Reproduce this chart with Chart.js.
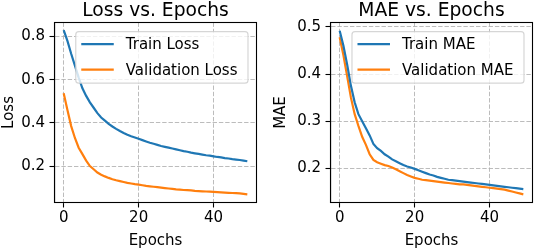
<!DOCTYPE html>
<html><head><meta charset="utf-8">
<script src="https://cdn.jsdelivr.net/npm/chart.js@4/dist/chart.umd.min.js"></script>
<style>
html,body{margin:0;padding:0;background:#fff;}
#wrap{position:relative;width:534px;height:250px;overflow:hidden;}
canvas{position:absolute;top:0;}
</style></head><body>
<div id="wrap">
<canvas id="c1" width="267" height="250" style="left:0"></canvas>
<canvas id="c2" width="267" height="250" style="left:267px"></canvas>
</div>
<script>
const epochs = [0,1,2,3,4,5,6,7,8,9,10,11,12,13,14,15,16,17,18,19,20,21,22,23,24,25,26,27,28,29,30,31,32,33,34,35,36,37,38,39,40,41,42,43,44,45,46,47,48,49];
const trainLoss = [0.83,0.78,0.72,0.665,0.61,0.56,0.525,0.495,0.47,0.445,0.425,0.41,0.395,0.383,0.372,0.362,0.353,0.345,0.338,0.332,0.326,0.32,0.314,0.308,0.303,0.298,0.293,0.289,0.285,0.281,0.277,0.273,0.269,0.266,0.262,0.259,0.256,0.253,0.25,0.248,0.245,0.242,0.24,0.237,0.235,0.232,0.23,0.228,0.225,0.222];
const valLoss = [0.537,0.46,0.385,0.33,0.285,0.255,0.225,0.2,0.185,0.17,0.16,0.152,0.145,0.139,0.134,0.13,0.126,0.122,0.119,0.116,0.114,0.111,0.108,0.106,0.104,0.102,0.1,0.098,0.096,0.094,0.092,0.091,0.089,0.088,0.087,0.085,0.084,0.083,0.082,0.081,0.08,0.079,0.078,0.077,0.076,0.075,0.074,0.073,0.071,0.069];
const trainMAE = [0.492,0.46,0.42,0.375,0.34,0.315,0.3,0.285,0.27,0.252,0.243,0.237,0.23,0.225,0.219,0.215,0.211,0.207,0.204,0.202,0.199,0.196,0.193,0.19,0.187,0.185,0.182,0.18,0.178,0.176,0.175,0.174,0.173,0.172,0.171,0.17,0.169,0.168,0.167,0.166,0.165,0.164,0.163,0.162,0.161,0.16,0.159,0.158,0.157,0.156];
const valMAE = [0.478,0.44,0.395,0.35,0.315,0.29,0.267,0.25,0.23,0.218,0.213,0.21,0.207,0.205,0.202,0.198,0.194,0.19,0.186,0.183,0.18,0.178,0.176,0.175,0.174,0.173,0.172,0.171,0.17,0.169,0.168,0.167,0.166,0.166,0.165,0.164,0.163,0.162,0.161,0.16,0.159,0.158,0.157,0.156,0.155,0.153,0.151,0.149,0.147,0.145];
const xTicks = [0,20,40];
const lossTicks = [0.2,0.4,0.6,0.8];
const maeTicks = [0.2,0.3,0.4,0.5];
const lossLabels = ['Train Loss','Validation Loss'];
const maeLabels = ['Train MAE','Validation MAE'];

const FONT = '"DejaVu Sans", sans-serif';
const BLUE = '#1f77b4', ORANGE = '#ff7f0e';

const deco = {
  id: 'deco',
  afterDatasetsDraw(chart, args, o) {
    const ctx = chart.ctx, a = chart.chartArea;
    ctx.save();
    // frame
    ctx.strokeStyle = '#000'; ctx.lineWidth = 1.1; ctx.setLineDash([]);
    ctx.strokeRect(a.left, a.top, a.right - a.left, a.bottom - a.top);
    // legend
    ctx.font = '15px ' + FONT;
    const ds = chart.data.datasets;
    let tw = 0;
    ds.forEach(d => { tw = Math.max(tw, ctx.measureText(d.label).width); });
    const w = 5.5 + 32.5 + 12 + tw + 10.5, h = 51.5;
    const x0 = a.right - 8.5 - w, y0 = a.top + 9.2;
    ctx.beginPath();
    if (ctx.roundRect) ctx.roundRect(x0, y0, w, h, 3); else ctx.rect(x0, y0, w, h);
    ctx.fillStyle = 'rgba(255,255,255,0.8)'; ctx.fill();
    ctx.strokeStyle = 'rgba(204,204,204,0.8)'; ctx.lineWidth = 1.2; ctx.stroke();
    ds.forEach((d, i) => {
      const yy = y0 + 12.5 + i * 25.5;
      ctx.strokeStyle = d.borderColor; ctx.lineWidth = 2.2;
      ctx.beginPath(); ctx.moveTo(x0 + 5.5, yy); ctx.lineTo(x0 + 38, yy); ctx.stroke();
      ctx.fillStyle = '#000'; ctx.textAlign = 'left'; ctx.textBaseline = 'middle';
      ctx.fillText(d.label, x0 + 50, yy + 1);
    });
    // title
    ctx.font = '18.7px ' + FONT; ctx.fillStyle = '#000';
    ctx.textAlign = 'center'; ctx.textBaseline = 'alphabetic';
    ctx.fillText(o.title, (a.left + a.right) / 2, 15.5);
    ctx.restore();
  }
};

function makeChart(id, cfg) {
  const pts = arr => epochs.map((e, i) => ({x: e, y: arr[i]}));
  return new Chart(document.getElementById(id), {
    type: 'line',
    data: {
      datasets: [
        {label: cfg.labels[0], data: pts(cfg.a), borderColor: BLUE, backgroundColor: BLUE, borderWidth: 2.2, pointRadius: 0, tension: 0, fill: false},
        {label: cfg.labels[1], data: pts(cfg.b), borderColor: ORANGE, backgroundColor: ORANGE, borderWidth: 2.2, pointRadius: 0, tension: 0, fill: false}
      ]
    },
    plugins: [deco],
    options: {
      responsive: false, animation: false, devicePixelRatio: 1,
      layout: {padding: {top: 22.5, right: cfg.padRight, bottom: 0, left: 0}},
      plugins: {legend: {display: false}, title: {display: false}, tooltip: {enabled: false}, deco: {title: cfg.title}},
      scales: {
        x: {
          type: 'linear', min: -2.45, max: 51.45,
          afterBuildTicks: s => { s.ticks = xTicks.map(v => ({value: v})); },
          afterFit: s => { s.height = 47.5; },
          ticks: {color: '#000', font: {family: FONT, size: 15}, padding: 2, maxRotation: 0, autoSkip: false, callback: v => String(v)},
          grid: {color: 'rgba(176,176,176,0.85)', lineWidth: 1, tickLength: 5, tickColor: '#000', tickWidth: 1.1, tickBorderDash: []},
          border: {display: true, color: '#000', width: 1.1, dash: [4.4, 1.9]},
          title: {display: true, text: 'Epochs', color: '#000', font: {family: FONT, size: 15}, padding: {top: 0, bottom: 0}}
        },
        y: {
          type: 'linear', min: cfg.yMin, max: cfg.yMax,
          afterBuildTicks: s => { s.ticks = cfg.yTicks.map(v => ({value: v})); },
          afterFit: s => { s.width = cfg.yWidth; },
          ticks: {color: '#000', font: {family: FONT, size: 15}, padding: 4.5, autoSkip: false, callback: v => v.toFixed(1)},
          grid: {color: 'rgba(176,176,176,0.85)', lineWidth: 1, tickLength: 5, tickColor: '#000', tickWidth: 1.1, tickBorderDash: []},
          border: {display: true, color: '#000', width: 1.1, dash: [4.4, 1.9]},
          title: {display: true, text: cfg.yTitle, color: '#000', font: {family: FONT, size: 15}, padding: {top: cfg.yTitlePad, bottom: 0}}
        }
      }
    }
  });
}

makeChart('c1', {a: trainLoss, b: valLoss, labels: lossLabels, title: 'Loss vs. Epochs', yTitle: 'Loss',
  yMin: 0.031, yMax: 0.865, yTicks: lossTicks, yWidth: 54.5, padRight: 10.5, yTitlePad: 0});
makeChart('c2', {a: trainMAE, b: valMAE, labels: maeLabels, title: 'MAE vs. Epochs', yTitle: 'MAE',
  yMin: 0.1277, yMax: 0.5093, yTicks: maeTicks, yWidth: 63.5, padRight: 1.5, yTitlePad: 5});
</script>
</body></html>
